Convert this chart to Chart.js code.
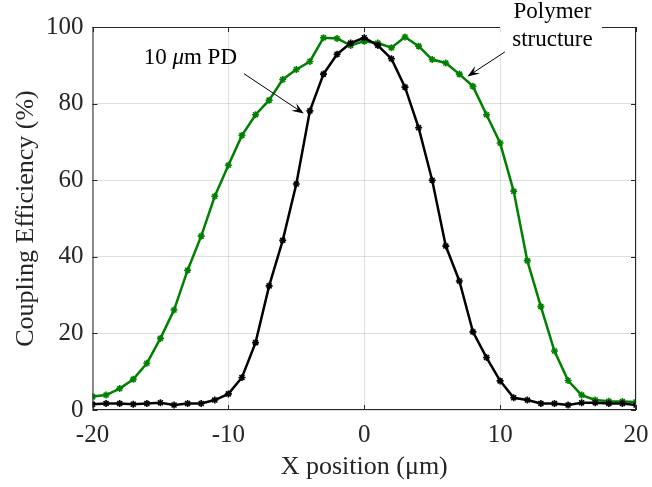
<!DOCTYPE html>
<html lang="en">
<head>
    <meta charset="UTF-8">
    <title>Coupling Efficiency</title>
    <script src="https://cdn.jsdelivr.net/npm/chart.js"></script>
    <style>
        body { margin: 0; background: #fff; }
        #wrap { width: 652px; height: 487px; position: relative; }
    </style>
</head>
<body>
    <div id="wrap">
        <canvas id="chart"></canvas>
    </div>

    <script>
        // x positions (um)
        var xPositions = [-20, -19, -18, -17, -16, -15, -14, -13, -12, -11, -10, -9, -8, -7, -6,
            -5, -4, -3, -2, -1, 0, 1, 2, 3, 4, 5,
            6, 7, 8, 9, 10, 11, 12, 13, 14, 15, 16, 17, 18, 19, 20];

        // coupling efficiency (%)
        var polymerValues = [3.5, 3.9, 5.6, 8.0, 12.2, 18.7, 26.1, 36.5, 45.4, 55.8, 63.9, 71.7, 77.1, 80.9, 86.3,
            88.9, 91.0, 97.2, 97.0, 95.2, 96.3, 95.8, 94.6, 97.4, 95.0, 91.5,
            90.6, 87.7, 84.5, 77.1, 69.7, 57.1, 39.0, 27.0, 15.4, 7.7, 3.9, 2.6, 2.3, 2.2, 2.1];
        var pdValues = [1.5, 1.7, 1.7, 1.5, 1.7, 1.9, 1.3, 1.7, 1.7, 2.6, 4.2, 8.5, 17.6, 32.4, 44.3,
            59.0, 78.1, 87.7, 92.9, 95.8, 97.2, 95.2, 91.7, 84.3, 73.7, 60.0,
            42.8, 33.7, 20.4, 13.7, 7.6, 3.2, 2.6, 1.7, 1.7, 1.3, 1.9, 1.9, 1.7, 1.7, 1.3];

        var xTicks = [-20, -10, 0, 10, 20];
        var yTicks = [0, 20, 40, 60, 80, 100];

        var serif = '"Liberation Serif", "Times New Roman", serif';
        var axisColor = '#262626';

        function toPoints(values) {
            return values.map(function (v, i) { return { x: xPositions[i], y: v }; });
        }

        // arrow with an indented head, from (x1,y1) to (x2,y2) in pixels
        function drawArrow(ctx, x1, y1, x2, y2) {
            var ang = Math.atan2(y2 - y1, x2 - x1);
            var len = 12, wing = 4.5;
            ctx.save();
            ctx.strokeStyle = '#000';
            ctx.fillStyle = '#000';
            ctx.lineWidth = 1;
            ctx.beginPath();
            ctx.moveTo(x1, y1);
            ctx.lineTo(x2 - Math.cos(ang) * 6, y2 - Math.sin(ang) * 6);
            ctx.stroke();
            ctx.translate(x2, y2);
            ctx.rotate(ang);
            ctx.beginPath();
            ctx.moveTo(0, 0);
            ctx.lineTo(-len, -wing);
            ctx.lineTo(-len * 0.6, 0);
            ctx.lineTo(-len, wing);
            ctx.closePath();
            ctx.fill();
            ctx.restore();
        }

        var boxPlugin = {
            id: 'matlabBox',
            afterDraw: function (chart) {
                var ctx = chart.ctx;
                var a = chart.chartArea;
                var xs = chart.scales.x, ys = chart.scales.y;
                ctx.save();

                // box + inward ticks
                ctx.strokeStyle = axisColor;
                ctx.lineWidth = 1;
                ctx.strokeRect(a.left + 0.5, a.top + 0.5, a.right - a.left - 1, a.bottom - a.top - 1);
                ctx.beginPath();
                xTicks.forEach(function (t) {
                    var px = Math.round(xs.getPixelForValue(t)) + 0.5;
                    ctx.moveTo(px, a.bottom); ctx.lineTo(px, a.bottom - 5);
                    ctx.moveTo(px, a.top); ctx.lineTo(px, a.top + 5);
                });
                yTicks.forEach(function (t) {
                    var py = Math.round(ys.getPixelForValue(t)) + 0.5;
                    ctx.moveTo(a.left, py); ctx.lineTo(a.left + 5, py);
                    ctx.moveTo(a.right, py); ctx.lineTo(a.right - 5, py);
                });
                ctx.stroke();

                // "10 um PD" annotation
                ctx.fillStyle = '#000';
                ctx.textBaseline = 'middle';
                var parts = [['10 ', ''], ['\u03bc', 'italic '], ['m PD', '']];
                var total = 0;
                parts.forEach(function (p) { ctx.font = p[1] + '23px ' + serif; total += ctx.measureText(p[0]).width; });
                var tx = xs.getPixelForValue(-12.8) - total / 2;
                var ty = ys.getPixelForValue(91.8);
                ctx.textAlign = 'left';
                parts.forEach(function (p) {
                    ctx.font = p[1] + '23px ' + serif;
                    ctx.fillText(p[0], tx, ty);
                    tx += ctx.measureText(p[0]).width;
                });
                drawArrow(ctx, xs.getPixelForValue(-8.85), ys.getPixelForValue(87.8),
                    xs.getPixelForValue(-4.45), ys.getPixelForValue(77.4));

                // "Polymer structure" annotation, on a white box over the frame
                var bx1 = xs.getPixelForValue(10.0), bx2 = xs.getPixelForValue(17.5);
                var by1 = ys.getPixelForValue(107), by2 = ys.getPixelForValue(92.8);
                ctx.fillStyle = '#fff';
                ctx.fillRect(bx1, by1, bx2 - bx1, by2 - by1);
                ctx.fillStyle = '#000';
                ctx.font = '23px ' + serif;
                ctx.textAlign = 'center';
                var cx = xs.getPixelForValue(13.85);
                ctx.fillText('Polymer', cx, ys.getPixelForValue(103.9));
                ctx.fillText('structure', cx, ys.getPixelForValue(96.5));
                drawArrow(ctx, xs.getPixelForValue(10.35), ys.getPixelForValue(93.5),
                    xs.getPixelForValue(7.6), ys.getPixelForValue(87.1));
                ctx.restore();
            }
        };

        var ctx = document.getElementById('chart').getContext('2d');
        var chart = new Chart(ctx, {
            type: 'line',
            data: {
                datasets: [{
                    label: '10 \u03bcm PD',
                    data: toPoints(pdValues),
                    borderColor: '#000',
                    backgroundColor: '#000',
                    borderWidth: 2.5,
                    pointStyle: 'star',
                    pointRadius: 3.5,
                    pointBorderWidth: 1.6,
                    pointBorderColor: '#000',
                    tension: 0,
                    order: 0
                }, {
                    label: 'Polymer structure',
                    data: toPoints(polymerValues),
                    borderColor: '#008000',
                    backgroundColor: '#008000',
                    borderWidth: 2.5,
                    pointStyle: 'star',
                    pointRadius: 3.5,
                    pointBorderWidth: 1.6,
                    pointBorderColor: '#008000',
                    tension: 0,
                    order: 1
                }]
            },
            options: {
                responsive: true,
                maintainAspectRatio: false,
                animation: false,
                layout: { padding: { top: 27, right: 16, left: 0, bottom: 0 } },
                plugins: {
                    legend: { display: false },
                    tooltip: { enabled: false }
                },
                scales: {
                    x: {
                        type: 'linear',
                        min: -20,
                        max: 20,
                        afterFit: function (s) { s.height = 77; s.paddingLeft = 0; s.paddingRight = 0; },
                        afterBuildTicks: function (s) { s.ticks = xTicks.map(function (v) { return { value: v }; }); },
                        border: { display: false },
                        grid: { color: 'rgba(38,38,38,0.15)', drawTicks: false },
                        ticks: {
                            color: axisColor,
                            padding: 10,
                            maxRotation: 0,
                            font: { family: serif, size: 25 }
                        },
                        title: {
                            display: true,
                            text: 'X position (\u03bcm)',
                            color: axisColor,
                            padding: { top: 0, bottom: 4 },
                            font: { family: serif, size: 26 }
                        }
                    },
                    y: {
                        min: 0,
                        max: 100,
                        afterFit: function (s) { s.width = 92.5; s.paddingTop = 0; s.paddingBottom = 0; },
                        afterBuildTicks: function (s) { s.ticks = yTicks.map(function (v) { return { value: v }; }); },
                        border: { display: false },
                        grid: { color: 'rgba(38,38,38,0.15)', drawTicks: false },
                        ticks: {
                            color: axisColor,
                            padding: 9,
                            font: { family: serif, size: 25 }
                        },
                        title: {
                            display: true,
                            text: 'Coupling Efficiency (%)',
                            color: axisColor,
                            padding: { top: 11, bottom: 0 },
                            font: { family: serif, size: 26 }
                        }
                    }
                }
            },
            plugins: [boxPlugin]
        });
    </script>
</body>
</html>
